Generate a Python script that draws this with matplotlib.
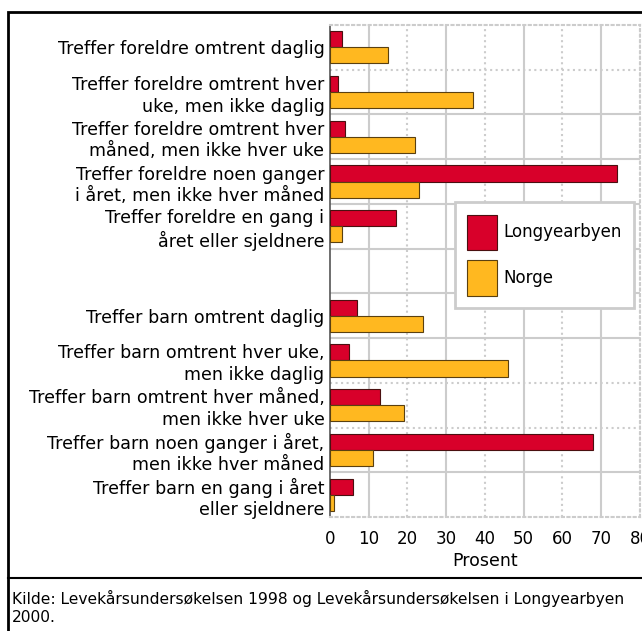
import matplotlib.pyplot as plt
import numpy as np
from matplotlib.patches import Rectangle
from matplotlib.lines import Line2D

categories = [
    "Treffer foreldre omtrent daglig",
    "Treffer foreldre omtrent hver\nuke, men ikke daglig",
    "Treffer foreldre omtrent hver\nmåned, men ikke hver uke",
    "Treffer foreldre noen ganger\ni året, men ikke hver måned",
    "Treffer foreldre en gang i\nåret eller sjeldnere",
    "",
    "Treffer barn omtrent daglig",
    "Treffer barn omtrent hver uke,\nmen ikke daglig",
    "Treffer barn omtrent hver måned,\nmen ikke hver uke",
    "Treffer barn noen ganger i året,\nmen ikke hver måned",
    "Treffer barn en gang i året\neller sjeldnere",
]
longyearbyen = [3, 2, 4, 74, 17, np.nan, 7, 5, 13, 68, 6]
norge = [15, 37, 22, 23, 3, np.nan, 24, 46, 19, 11, 1]
xticks = [0, 10, 20, 30, 40, 50, 60, 70, 80]
source = "Kilde: Levekårsundersøkelsen 1998 og Levekårsundersøkelsen i Longyearbyen\n2000."

red = "#d8002a"
orange = "#ffb820"
grid_col = "#cccccc"

plt.rcParams['font.family'] = ['DejaVu Sans']

W, H = 642, 631
fig = plt.figure(figsize=(W / 100, H / 100), dpi=100)
ax = fig.add_axes([330 / W, 1 - 517 / H, 310 / W, 492 / H])

y = np.arange(len(categories))
h = 0.36
ax.barh(y - h / 2, longyearbyen, height=h, color=red, edgecolor="#4a1010",
        linewidth=0.8, label="Longyearbyen", zorder=3)
ax.barh(y + h / 2, norge, height=h, color=orange, edgecolor="#5a4010",
        linewidth=0.8, label="Norge", zorder=3)

ax.set_ylim(len(categories) - 0.5, -0.5)
ax.set_xlim(0, 80)
ax.set_yticks(y)
ax.set_yticklabels(categories, fontsize=12.6, linespacing=1.25)
ax.set_xticks(xticks)
ax.set_xticklabels([str(t) for t in xticks], fontsize=12)
ax.tick_params(length=0, pad=4)
ax.tick_params(axis='x', pad=9)
ax.set_xlabel("Prosent", fontsize=12.5, labelpad=3)

# grid: solid at odd tens, dotted at even tens
for t in xticks[1:]:
    ls = '-' if (t // 10) % 2 == 1 else ':'
    ax.axvline(t, color=grid_col, lw=1.5, ls=ls, zorder=1)
for i, b in enumerate(np.arange(0.5, len(categories) - 1, 1.0)):
    ls = ':' if i in (0, 7, 8) else '-'
    ax.axhline(b, color=grid_col, lw=1.5, ls=ls, zorder=1)

for s in ['top', 'right', 'bottom']:
    ax.spines[s].set_color(grid_col)
    ax.spines[s].set_linestyle(':')
    ax.spines[s].set_linewidth(1.5)
ax.spines['left'].set_color("#555555")
ax.spines['left'].set_linewidth(1.2)

leg = ax.legend(loc='upper left', bbox_to_anchor=(0.403, 0.64), fontsize=12,
                handlelength=1.8, handleheight=2.9, labelspacing=0.6,
                borderpad=0.75, handletextpad=0.35, borderaxespad=0,
                fancybox=False, framealpha=1, edgecolor=grid_col)
leg.get_frame().set_linewidth(2)
leg.set_zorder(5)

# outer frame and source note
fig.patches.append(Rectangle((8 / W, -0.01), 1.0, 1 - 12 / H + 0.01,
                             transform=fig.transFigure, fill=False,
                             edgecolor='black', lw=2))
fig.lines.append(Line2D([8 / W, 1], [1 - 578 / H] * 2, transform=fig.transFigure,
                        color='black', lw=1.5))
fig.text(12 / W, 1 - 590 / H, source, fontsize=11.2, va='top', ha='left',
         linespacing=1.25)

fig.savefig("out.png", dpi=100)
